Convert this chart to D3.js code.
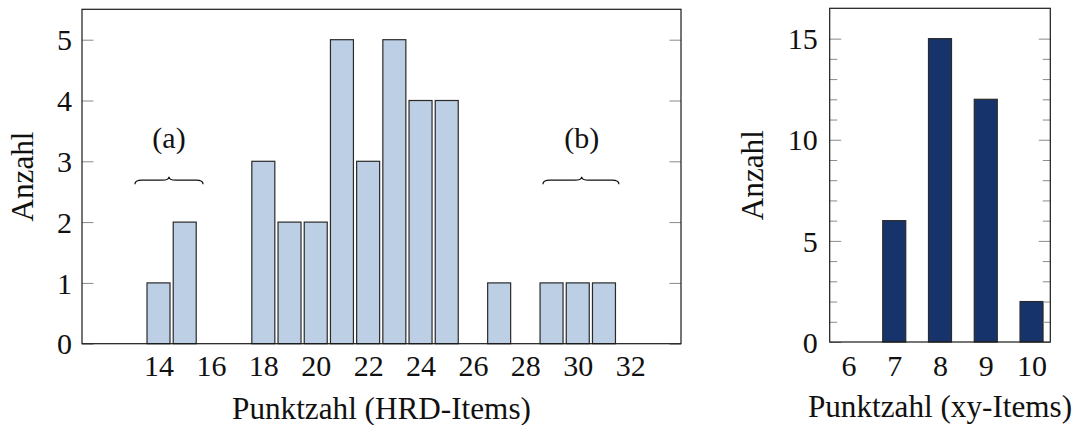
<!DOCTYPE html>
<html>
<head>
<meta charset="utf-8">
<script src="https://cdn.jsdelivr.net/npm/d3@7"></script>
<style>
  html, body { margin: 0; padding: 0; background: #fff; }
  svg { display: block; }
  text { font-family: "Liberation Serif", "DejaVu Serif", serif; fill: #111; }
</style>
</head>
<body>
<svg id="chart" width="1076" height="425"></svg>
<script>
// Score distribution, HRD items
const hrdScores = [13, 14, 15, 16, 17, 18, 19, 20, 21, 22, 23, 24, 25, 26, 27, 28, 29, 30, 31];
const hrdCounts = [0, 1, 2, 0, 0, 3, 2, 2, 5, 3, 5, 4, 4, 0, 1, 0, 1, 1, 1];
const hrdXTicks = [14, 16, 18, 20, 22, 24, 26, 28, 30, 32];
const hrdYTicks = [0, 1, 2, 3, 4, 5];

// Score distribution, xy items
const xyScores = [6, 7, 8, 9, 10];
const xyCounts = [0, 6, 15, 12, 2];
const xyXTicks = [6, 7, 8, 9, 10];
const xyYTicks = [0, 5, 10, 15];
const xyYMinor = [1, 2, 3, 4, 6, 7, 8, 9, 11, 12, 13, 14];

// Group annotations on the HRD panel: label, brace start, tip, end (score units)
const groupLabels = ["(a)", "(b)"];
const groupStart = [13.1, 28.67];
const groupTip = [14.4, 30.15];
const groupEnd = [15.7, 31.57];
const groupBraceY = 2.69;
const groupLabelY = 3.22;

const svg = d3.select("#chart");
const FONT = 30;
const TITLE_FONT = 31.2;
const BAR_W = 23;

function panel(cfg) {
  const x = d3.scaleLinear().domain(cfg.xDomain).range([cfg.left, cfg.right]);
  const y = d3.scaleLinear().domain(cfg.yDomain).range([cfg.bottom, cfg.top]);
  const g = svg.append("g");

  // bars
  g.selectAll("rect.bar")
    .data(cfg.xs.map((s, i) => ({ s, c: cfg.ys[i] })))
    .join("rect")
    .attr("class", "bar")
    .attr("x", d => x(d.s) - BAR_W / 2)
    .attr("width", BAR_W)
    .attr("y", d => y(d.c))
    .attr("height", d => y(0) - y(d.c))
    .attr("fill", cfg.fill)
    .attr("stroke", "#2a2a2a")
    .attr("stroke-width", 1.2);

  // y ticks inside the frame on both sides (labels only on the left)
  function innerTicks(values, len) {
    const aL = d3.axisRight(y).tickValues(values).tickSize(len).tickFormat("");
    const aR = d3.axisLeft(y).tickValues(values).tickSize(len).tickFormat("");
    [[aL, cfg.left], [aR, cfg.right]].forEach(([ax, px]) => {
      const a = g.append("g").attr("transform", `translate(${px},0)`).call(ax);
      a.select(".domain").remove();
      a.selectAll("line").attr("stroke", "#8a8a8a").attr("stroke-width", 1);
    });
  }
  innerTicks(cfg.yTicks, 11.5);
  if (cfg.yMinor) innerTicks(cfg.yMinor, 7.5);

  // y tick labels
  const yl = d3.axisLeft(y).tickValues(cfg.yTicks).tickSize(0)
    .tickPadding(cfg.yPad).tickFormat(d3.format("d"));
  const ya = g.append("g").attr("transform", `translate(${cfg.left},0)`).call(yl);
  ya.select(".domain").remove();
  ya.attr("font-family", null).attr("font-size", null);
  ya.selectAll("text")
    .attr("font-size", FONT).attr("fill", "#111").attr("dy", "0.34em");

  // x tick labels
  const xl = d3.axisBottom(x).tickValues(cfg.xTicks).tickSize(0)
    .tickPadding(0).tickFormat(d3.format("d"));
  const xa = g.append("g").attr("transform", `translate(0,${cfg.bottom})`).call(xl);
  xa.select(".domain").remove();
  xa.attr("font-family", null).attr("font-size", null);
  xa.selectAll("text")
    .attr("font-size", FONT).attr("fill", "#111")
    .attr("dy", null).attr("y", cfg.xLabelBase - cfg.bottom);

  // frame
  g.append("rect")
    .attr("x", cfg.left).attr("y", cfg.top)
    .attr("width", cfg.right - cfg.left).attr("height", cfg.bottom - cfg.top)
    .attr("fill", "none").attr("stroke", "#1a1a1a").attr("stroke-width", 1.2);

  // axis titles
  g.append("text")
    .attr("x", (cfg.left + cfg.right) / 2).attr("y", cfg.titleBase)
    .attr("text-anchor", "middle").attr("font-size", TITLE_FONT)
    .text(cfg.xTitle);
  g.append("text")
    .attr("transform", `translate(${cfg.yTitleX},${(cfg.top + cfg.bottom) / 2}) rotate(-90)`)
    .attr("text-anchor", "middle").attr("font-size", TITLE_FONT)
    .text("Anzahl");

  return { x, y, g };
}

const left = panel({
  left: 82, right: 681, top: 9.3, bottom: 343.7,
  xDomain: [11.08, 33.94], yDomain: [0, 5.5],
  xs: hrdScores, ys: hrdCounts, fill: "#bccfe4",
  xTicks: hrdXTicks, yTicks: hrdYTicks, yPad: 10,
  xLabelBase: 376, titleBase: 419, yTitleX: 33,
  xTitle: "Punktzahl (HRD-Items)"
});

panel({
  left: 829.7, right: 1050.3, top: 8.3, bottom: 342,
  xDomain: [5.59, 10.41], yDomain: [0, 16.5],
  xs: xyScores, ys: xyCounts, fill: "#17336b",
  xTicks: xyXTicks, yTicks: xyYTicks, yMinor: xyYMinor, yPad: 12,
  xLabelBase: 376, titleBase: 416.5, yTitleX: 763,
  xTitle: "Punktzahl (xy-Items)"
});

// braces with group labels
function bracePath(x0, xm, x1, yb) {
  const p = d3.path();
  const h = 4, t = 3.5, r = 7;
  p.moveTo(x0, yb + h);
  p.quadraticCurveTo(x0, yb, x0 + r, yb);
  p.lineTo(xm - r, yb);
  p.quadraticCurveTo(xm, yb, xm, yb - t);
  p.quadraticCurveTo(xm, yb, xm + r, yb);
  p.lineTo(x1 - r, yb);
  p.quadraticCurveTo(x1, yb, x1, yb + h);
  return p.toString();
}
groupLabels.forEach((lab, i) => {
  const yb = left.y(groupBraceY);
  left.g.append("path")
    .attr("d", bracePath(left.x(groupStart[i]), left.x(groupTip[i]), left.x(groupEnd[i]), yb))
    .attr("fill", "none").attr("stroke", "#111").attr("stroke-width", 1.2);
  left.g.append("text")
    .attr("x", left.x(groupTip[i])).attr("y", left.y(groupLabelY))
    .attr("text-anchor", "middle").attr("font-size", FONT)
    .text(lab);
});
</script>
</body>
</html>
